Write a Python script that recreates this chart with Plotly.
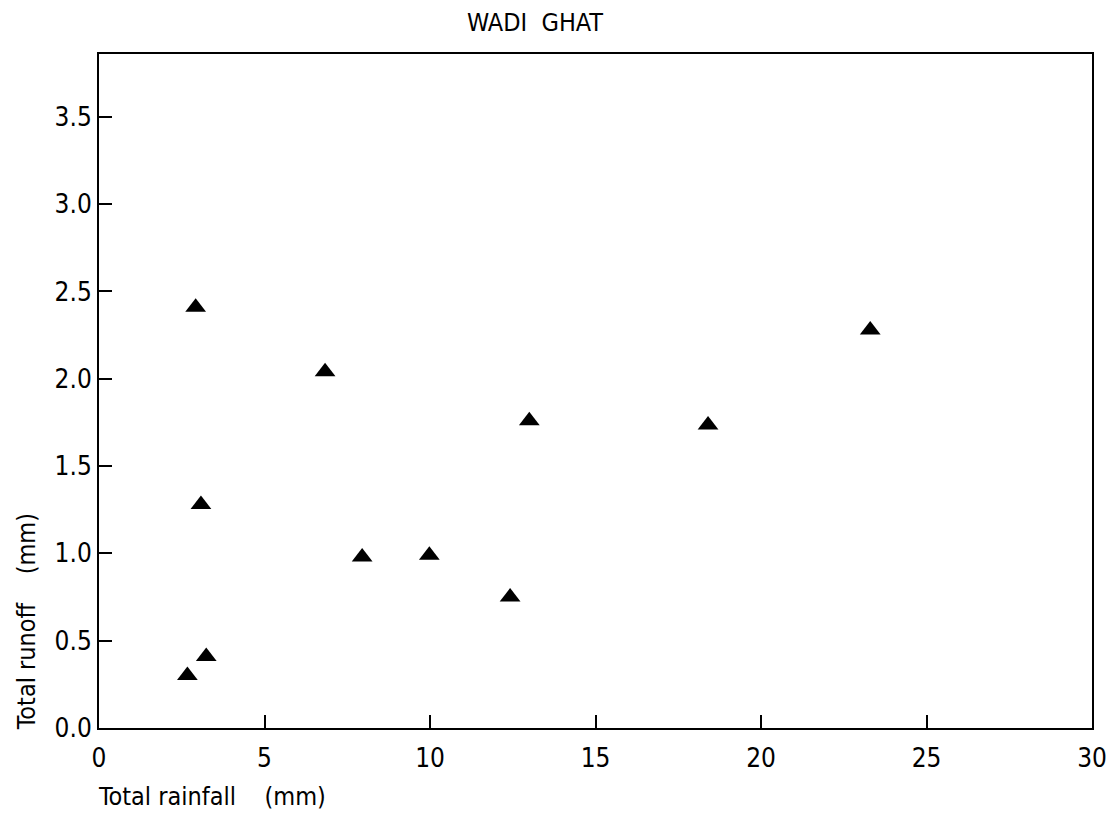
import plotly.graph_objects as go

# Data
rainfall = [2.67, 3.24, 2.92, 3.08, 6.83, 7.95, 9.98, 12.42, 13.0, 18.4, 23.3]
runoff = [0.30, 0.41, 2.41, 1.28, 2.04, 0.98, 0.99, 0.75, 1.76, 1.735, 2.28]

x_ticks = [0, 5, 10, 15, 20, 25, 30]
y_ticks = [0.0, 0.5, 1.0, 1.5, 2.0, 2.5, 3.0, 3.5]

title_text = "WADI&nbsp;&nbsp;GHAT"
x_title = "Total rainfall&nbsp;&nbsp;&nbsp;&nbsp;(mm)"
y_title = "Total runoff&nbsp;&nbsp;&nbsp;&nbsp;(mm)"

FONT = "Liberation Sans Narrow, DejaVu Sans Condensed, Arial Narrow, sans-serif"

fig = go.Figure()
fig.add_trace(go.Scatter(
    x=rainfall, y=runoff, mode="markers",
    marker=dict(symbol="triangle-up", size=18, color="black",
                line=dict(width=0)),
    showlegend=False, hoverinfo="skip",
))

axis_common = dict(
    showgrid=False, zeroline=False, showline=True, linecolor="black",
    linewidth=2, mirror=True, ticks="inside", tickcolor="black",
    tickwidth=2, ticklen=13,
    tickfont=dict(family=FONT, size=26, color="black"),
)

fig.update_xaxes(range=[0, 30], tickvals=x_ticks,
                 ticktext=[str(v) for v in x_ticks], ticklabelstandoff=6,
                 **axis_common)
fig.update_yaxes(range=[0, 3.86], tickvals=y_ticks,
                 ticktext=[f"{v:.1f}" for v in y_ticks], **axis_common)

fig.update_layout(
    width=1119, height=815,
    margin=dict(l=99, r=19, t=54, b=87),
    plot_bgcolor="white", paper_bgcolor="white",
    font=dict(family=FONT, size=26, color="black"),
    annotations=[
        dict(text=title_text, xref="paper", yref="paper",
             x=0.4386, y=1.046, xanchor="center", yanchor="middle",
             showarrow=False, font=dict(family=FONT, size=25, color="black")),
        dict(text=x_title, xref="paper", yref="paper",
             x=-0.003, y=-0.102, xanchor="left", yanchor="middle",
             showarrow=False, font=dict(family=FONT, size=25, color="black")),
        dict(text=y_title, xref="paper", yref="paper",
             x=-0.0729, y=-0.006, xanchor="center", yanchor="bottom",
             textangle=-90, showarrow=False,
             font=dict(family=FONT, size=25, color="black")),
    ],
)

fig.write_html("out.html")
